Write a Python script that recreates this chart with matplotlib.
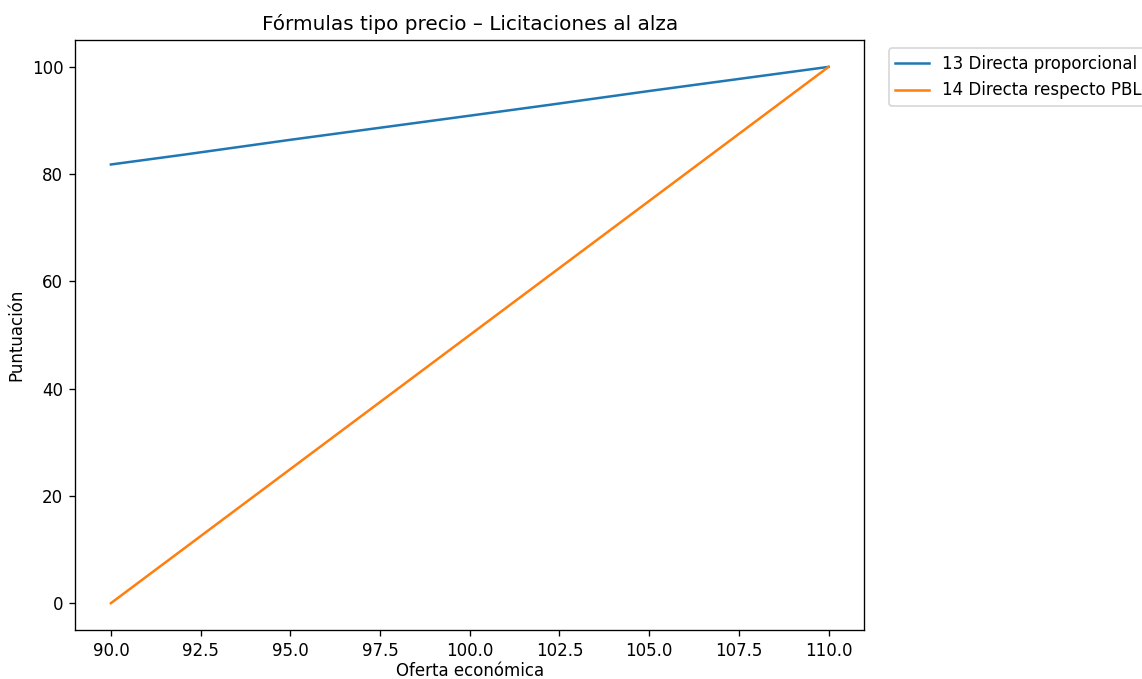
import matplotlib
matplotlib.use('Agg')
import matplotlib.pyplot as plt

# oferta economica
oferta = [90.0, 92.0, 95.0, 100.0, 102.2, 105.0, 110.0]
# 13 Directa proporcional
directa_prop = [81.8, 83.6, 86.4, 90.9, 92.9, 95.5, 100.0]
# 14 Directa respecto PBL
directa_pbl = [0.0, 10.0, 25.0, 50.0, 61.0, 75.0, 100.0]

DPI = 120
fig = plt.figure(figsize=(1142/DPI, 679/DPI), dpi=DPI)
ax = fig.add_subplot(111)
fig.subplots_adjust(left=0.0657, right=0.757, top=0.941, bottom=0.0722)

ax.plot(oferta, directa_prop, label='13 Directa proporcional')
ax.plot(oferta, directa_pbl, label='14 Directa respecto PBL')

ax.set_title('Fórmulas tipo precio – Licitaciones al alza')
ax.set_xlabel('Oferta económica', labelpad=1.5)
ax.set_ylabel('Puntuación')
ax.legend(loc='upper left', bbox_to_anchor=(1.02, 1))

fig.savefig('out.png', dpi=DPI)
